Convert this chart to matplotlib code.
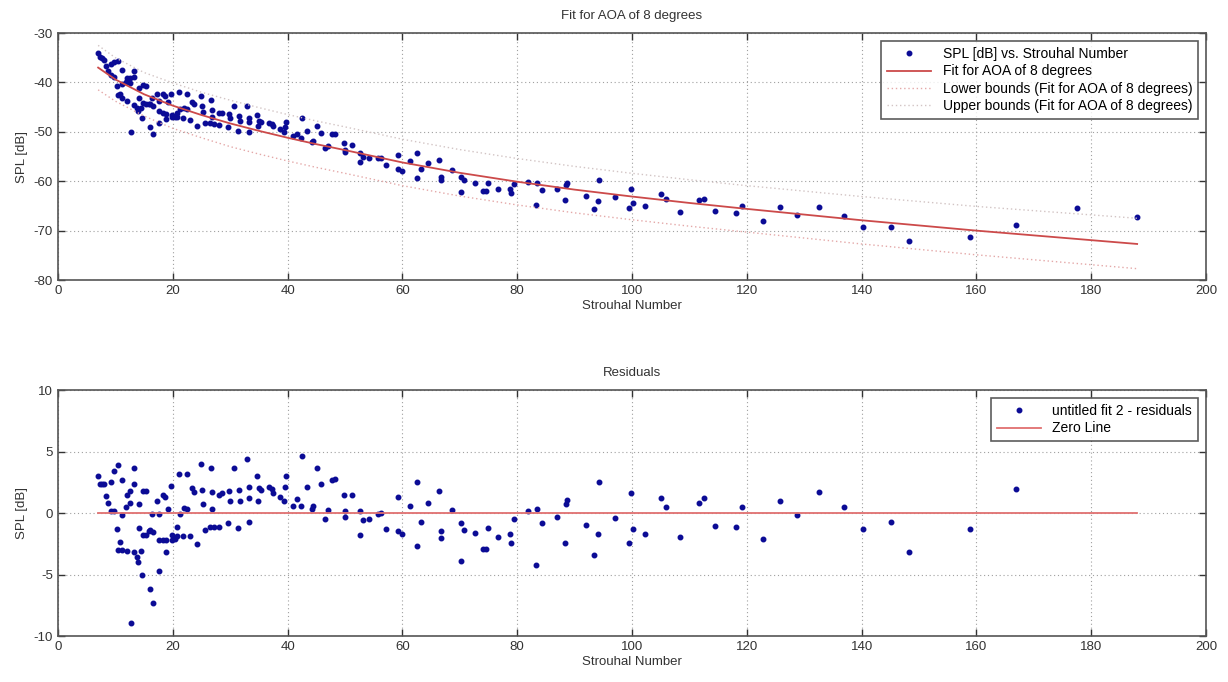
import matplotlib
matplotlib.use("Agg")
import matplotlib.pyplot as plt

plt.rcParams['font.family'] = ['Liberation Sans', 'DejaVu Sans']
plt.rcParams['axes.unicode_minus'] = False

# ---- data ----
strouhal = [7.0, 7.3, 7.6, 8.0, 9.2, 9.8, 10.4, 11.2, 13.3, 13.3,
            8.3, 8.8, 9.3, 9.8, 11.2, 10.2, 10.8, 10.4, 11.1, 12.0,
            11.8, 12.1, 12.5, 12.5, 13.3, 13.7, 14.0, 14.9, 15.4, 14.1,
            14.1, 14.5, 14.9, 15.4, 16.0, 16.6, 15.9, 14.7, 16.0, 16.6,
            12.8, 16.3, 17.6, 17.2, 18.3, 18.6, 17.6, 18.3, 18.8, 18.8,
            17.6, 19.7, 19.2, 19.9, 19.9, 20.4, 20.7, 21.2, 21.0, 22.4,
            20.8, 22.0, 22.4, 21.8, 23.0, 23.3, 23.7, 24.2, 25.0, 25.1,
            25.3, 25.6, 26.7, 26.8, 26.9, 26.5, 27.2, 28.0, 28.0, 28.5,
            29.6, 29.8, 30.0, 30.7, 31.3, 31.5, 31.7, 32.9, 33.2, 33.2,
            33.2, 34.6, 35.1, 35.3, 34.9, 36.8, 37.2, 37.4, 38.7, 39.3,
            39.7, 39.6, 42.5, 40.9, 41.7, 42.3, 43.3, 44.2, 44.4, 45.1,
            45.8, 46.5, 47.1, 47.7, 48.3, 49.8, 51.2, 50.0, 50.0, 52.6,
            52.6, 53.1, 54.1, 55.8, 56.2, 57.1, 59.3, 59.3, 59.9, 61.3,
            62.5, 62.5, 63.2, 64.4, 66.3, 66.7, 66.8, 68.6, 70.2, 70.7,
            70.2, 72.7, 74.1, 74.6, 75.0, 76.7, 78.7, 79.0, 79.4, 81.8,
            83.4, 83.3, 84.4, 86.9, 88.3, 88.5, 88.7, 92.0, 93.3, 94.0,
            94.2, 97.0, 99.4, 99.9, 100.1, 102.3, 105.0, 106.0, 108.4, 111.6,
            112.5, 114.5, 118.2, 119.2, 122.8, 125.8, 128.8, 132.5, 136.9, 140.3,
            145.2, 148.3, 158.9, 166.9, 177.5, 188.0]

spl_db = [-34.0, -34.8, -35.1, -35.4, -36.3, -35.8, -35.7, -37.4, -37.7, -39.0,
          -36.6, -37.6, -38.6, -39.0, -40.3, -40.8, -42.3, -42.6, -43.1, -43.7,
          -40.0, -39.2, -39.1, -40.1, -44.6, -45.2, -45.8, -40.5, -40.8, -41.2,
          -43.1, -45.2, -44.1, -44.4, -44.3, -44.7, -44.4, -47.2, -49.1, -50.5,
          -50.0, -43.1, -43.7, -42.4, -42.4, -42.7, -45.8, -46.1, -46.4, -47.4,
          -48.3, -42.4, -44.0, -46.5, -46.9, -47.0, -46.9, -45.3, -41.9, -42.4,
          -46.1, -45.1, -45.3, -47.3, -47.7, -43.9, -44.4, -48.8, -42.7, -44.7,
          -46.0, -48.2, -43.5, -45.5, -46.9, -48.2, -48.4, -48.7, -46.1, -46.2,
          -49.0, -46.4, -47.3, -44.8, -49.9, -46.8, -47.8, -44.8, -47.2, -48.0,
          -50.0, -46.6, -47.8, -48.0, -48.8, -48.2, -48.4, -48.9, -49.5, -50.0,
          -48.1, -49.0, -47.3, -50.8, -50.5, -51.2, -49.9, -52.0, -51.8, -48.8,
          -50.3, -53.3, -52.8, -50.4, -50.5, -52.2, -52.6, -53.6, -54.1, -54.2,
          -56.2, -55.1, -55.2, -55.3, -55.3, -56.8, -54.7, -57.5, -57.9, -55.9,
          -54.2, -59.4, -57.6, -56.3, -55.7, -59.1, -59.7, -57.7, -59.2, -59.8,
          -62.2, -60.4, -61.9, -62.0, -60.4, -61.5, -61.6, -62.3, -60.5, -60.2,
          -60.3, -64.8, -61.7, -61.5, -63.8, -60.8, -60.4, -63.0, -65.6, -64.0,
          -59.8, -63.1, -65.4, -61.5, -64.4, -65.1, -62.6, -63.5, -66.2, -63.8,
          -63.5, -66.0, -66.5, -65.1, -68.0, -65.3, -66.8, -65.3, -67.1, -69.2,
          -69.2, -72.0, -71.2, -68.8, -65.4, -67.3]

resid_x = strouhal[:184]
residuals = [3.0, 2.4, 2.4, 2.4, 2.5, 3.4, 3.9, 2.7, 3.7, 2.4,
             1.4, 0.8, 0.2, 0.2, -0.2, -1.3, -2.35, -3.0, -3.0, -3.1,
             0.5, 1.5, 1.8, 0.8, -3.2, -3.6, -4.0, 1.8, 1.8, 0.7,
             -1.2, -3.1, -1.8, -1.8, -1.35, -1.55, -1.45, -5.0, -6.2, -7.3,
             -8.9, -0.1, -0.1, 0.95, 1.5, 1.3, -2.2, -2.2, -2.2, -3.2,
             -4.7, 2.2, 0.3, -1.8, -2.2, -2.1, -1.9, -0.05, 3.2, 3.2,
             -1.1, 0.4, 0.35, -1.9, -1.9, 2.05, 1.7, -2.5, 3.95, 1.9,
             0.7, -1.35, 3.7, 1.7, 0.3, -1.1, -1.1, -1.1, 1.5, 1.6,
             -0.85, 1.8, 1.0, 3.7, -1.2, 1.9, 1.0, 4.4, 2.1, 1.25,
             -0.75, 3.05, 2.0, 1.85, 1.0, 2.1, 1.95, 1.6, 1.3, 1.0,
             3.05, 2.1, 4.6, 0.6, 1.15, 0.55, 2.15, 0.35, 0.55, 3.7,
             2.4, -0.45, 0.25, 2.7, 2.8, 1.45, 1.45, 0.15, -0.35, 0.2,
             -1.75, -0.6, -0.5, -0.1, 0.0, -1.3, 1.3, -1.5, -1.7, 0.6,
             2.5, -2.7, -0.75, 0.85, 1.8, -1.45, -2.05, 0.25, -0.85, -1.4,
             -3.9, -1.6, -2.9, -2.9, -1.2, -1.95, -1.7, -2.4, -0.5, 0.2,
             0.35, -4.2, -0.85, -0.3, -2.4, 0.7, 1.05, -0.95, -3.45, -1.7,
             2.5, -0.4, -2.4, 1.65, -1.3, -1.7, 1.2, 0.45, -1.95, 0.8,
             1.2, -1.05, -1.15, 0.45, -2.1, 1.0, -0.2, 1.7, 0.45, -1.3,
             -0.75, -3.2, -1.3, 1.95]

fit_x = [7, 10, 15, 20, 25, 30, 35, 40, 45, 50, 60, 70, 80, 90, 100,
         110, 120, 140, 160, 188]
fit_y = [-37.0, -39.4, -42.4, -44.7, -46.6, -48.3, -49.8, -51.2, -52.5, -53.7,
         -56.2, -58.3, -60.1, -61.7, -63.1, -64.4, -65.6, -67.9, -70.0, -72.7]
upper_y = [-32.5, -35.0, -38.0, -40.1, -42.0, -43.6, -45.1, -46.5, -47.8, -49.0,
           -51.5, -53.6, -55.4, -57.0, -58.4, -59.7, -60.9, -63.1, -65.1, -67.5]
lower_y = [-41.5, -43.8, -46.8, -49.3, -51.2, -53.0, -54.5, -55.9, -57.2, -58.4,
           -60.9, -63.0, -64.8, -66.4, -67.8, -69.1, -70.3, -72.7, -74.9, -77.7]
zero_x = [7, 188]
zero_y = [0, 0]

# ---- figure ----
fig = plt.figure(figsize=(12.28, 6.82), dpi=100)
ax1 = fig.add_axes([0.0472, 0.5894, 0.9349, 0.3622])
ax2 = fig.add_axes([0.0472, 0.0674, 0.9349, 0.3607])

dot_color = '#0b0b95'
fit_color = '#cc4a4a'
fs = 9.5

def style(ax):
    ax.set_xlim(0, 200)
    ax.set_xticks(range(0, 201, 20))
    ax.grid(True, linestyle=(0, (1, 2.5)), color='#a0a0a0', linewidth=0.8)
    ax.tick_params(direction='in', length=5, top=True, right=True,
                   labelsize=fs, colors='#333333', width=1.0)
    for s in ax.spines.values():
        s.set_color('#555555')
        s.set_linewidth(1.2)
    ax.set_xlabel('Strouhal Number', fontsize=fs, color='#333333', labelpad=2)
    ax.set_ylabel('SPL [dB]', fontsize=fs, color='#333333', labelpad=4)

ax1.plot(strouhal, spl_db, '.', color=dot_color, markersize=6.5,
         label='SPL [dB] vs. Strouhal Number')
ax1.plot(fit_x, fit_y, '-', color=fit_color, linewidth=1.3,
         label='Fit for AOA of 8 degrees')
ax1.plot(fit_x, lower_y, linestyle=(0, (1, 2)), color='#e4a8a8', linewidth=1.0,
         label='Lower bounds (Fit for AOA of 8 degrees)')
ax1.plot(fit_x, upper_y, linestyle=(0, (1, 2)), color='#d2c4c4', linewidth=1.0,
         label='Upper bounds (Fit for AOA of 8 degrees)')
ax1.set_ylim(-80, -30)
ax1.set_yticks(range(-80, -29, 10))
style(ax1)
ax1.set_title('Fit for AOA of 8 degrees', fontsize=fs, color='#333333', pad=10)
leg1 = ax1.legend(loc='upper right', fontsize=10, frameon=True, fancybox=False,
                  edgecolor='#333333', handlelength=3.2, borderaxespad=0.6,
                  borderpad=0.4, labelspacing=0.25)
leg1.get_frame().set_linewidth(1.2)

ax2.plot(resid_x, residuals, '.', color=dot_color, markersize=6.5,
         label='untitled fit 2 - residuals')
ax2.plot(zero_x, zero_y, '-', color='#e07070', linewidth=1.3, label='Zero Line')
ax2.set_ylim(-10, 10)
ax2.set_yticks([-10, -5, 0, 5, 10])
style(ax2)
ax2.set_title('Residuals', fontsize=fs, color='#333333', pad=10)
leg2 = ax2.legend(loc='upper right', fontsize=10, frameon=True, fancybox=False,
                  edgecolor='#333333', handlelength=3.2, borderaxespad=0.6,
                  borderpad=0.4, labelspacing=0.25)
leg2.get_frame().set_linewidth(1.2)

fig.savefig('out.png', dpi=100, facecolor='white')
